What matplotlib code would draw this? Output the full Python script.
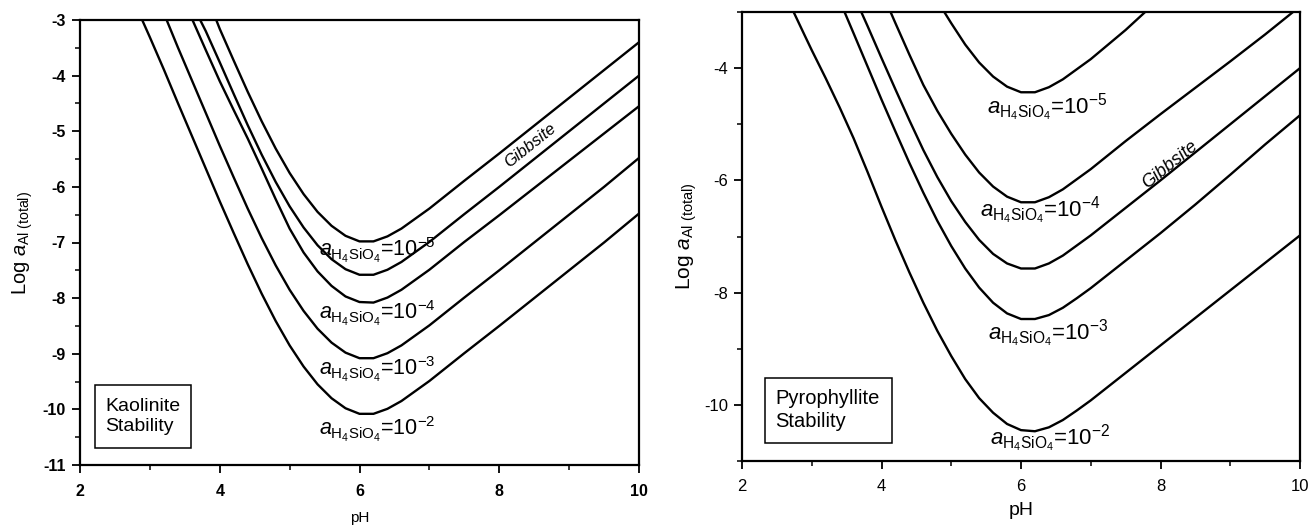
import matplotlib
matplotlib.use('Agg')
import matplotlib.pyplot as plt
from matplotlib.patches import Rectangle
from matplotlib.ticker import MultipleLocator, FormatStrFormatter

plt.rcParams['font.family'] = ['Liberation Sans', 'DejaVu Sans']
plt.rcParams['mathtext.fontset'] = 'custom'
plt.rcParams['mathtext.rm'] = 'Liberation Sans'
plt.rcParams['mathtext.it'] = 'Liberation Sans:italic'
plt.rcParams['mathtext.bf'] = 'Liberation Sans:bold'
plt.rcParams['axes.unicode_minus'] = False

# ---------------- data: Kaolinite stability (left panel) ----------------
kao_gibbsite_ph = [3.95, 4.0, 4.2, 4.4, 4.6, 4.8, 5.0, 5.2, 5.4, 5.6, 5.8, 6.0, 6.2, 6.4, 6.6, 6.8, 7.0, 7.5, 8.0, 8.5, 9.0, 9.5, 10.0]
kao_gibbsite_al = [-3.0, -3.16, -3.73, -4.29, -4.82, -5.31, -5.75, -6.13, -6.45, -6.70, -6.88, -6.98, -6.98, -6.89, -6.75, -6.57, -6.39, -5.89, -5.40, -4.90, -4.40, -3.90, -3.40]

kao_si5_ph = [3.72, 3.8, 4.0, 4.2, 4.4, 4.6, 4.8, 5.0, 5.2, 5.4, 5.6, 5.8, 6.0, 6.2, 6.4, 6.6, 6.8, 7.0, 7.5, 8.0, 8.5, 9.0, 9.5, 10.0]
kao_si5_al = [-3.0, -3.20, -3.76, -4.33, -4.89, -5.42, -5.91, -6.35, -6.73, -7.05, -7.30, -7.48, -7.58, -7.58, -7.49, -7.35, -7.17, -6.99, -6.49, -6.00, -5.50, -5.00, -4.50, -4.00]

kao_si4_ph = [3.61, 3.8, 4.0, 4.2, 4.4, 4.6, 4.8, 5.0, 5.2, 5.4, 5.6, 5.8, 6.0, 6.2, 6.4, 6.6, 6.8, 7.0, 7.5, 8.0, 8.5, 9.0, 9.5, 10.0]
kao_si4_al = [-3.0, -3.54, -4.10, -4.62, -5.13, -5.67, -6.22, -6.75, -7.18, -7.52, -7.78, -7.97, -8.07, -8.08, -7.99, -7.85, -7.67, -7.49, -6.99, -6.51, -6.02, -5.53, -5.04, -4.55]

kao_si3_ph = [3.24, 3.4, 3.6, 3.8, 4.0, 4.2, 4.4, 4.6, 4.8, 5.0, 5.2, 5.4, 5.6, 5.8, 6.0, 6.2, 6.4, 6.6, 6.8, 7.0, 7.5, 8.0, 8.5, 9.0, 9.5, 10.0]
kao_si3_al = [-3.0, -3.49, -4.08, -4.67, -5.26, -5.83, -6.39, -6.92, -7.41, -7.85, -8.23, -8.55, -8.80, -8.98, -9.08, -9.08, -8.99, -8.85, -8.67, -8.49, -7.99, -7.50, -7.00, -6.50, -6.00, -5.48]

kao_si2_ph = [2.89, 3.0, 3.2, 3.4, 3.6, 3.8, 4.0, 4.2, 4.4, 4.6, 4.8, 5.0, 5.2, 5.4, 5.6, 5.8, 6.0, 6.2, 6.4, 6.6, 6.8, 7.0, 7.5, 8.0, 8.5, 9.0, 9.5, 10.0]
kao_si2_al = [-3.0, -3.31, -3.89, -4.49, -5.08, -5.67, -6.26, -6.83, -7.39, -7.92, -8.41, -8.85, -9.23, -9.55, -9.80, -9.98, -10.08, -10.08, -9.99, -9.85, -9.67, -9.49, -8.99, -8.50, -8.00, -7.50, -7.00, -6.48]

# ---------------- data: Pyrophyllite stability (right panel) ----------------
pyr_si5_ph = [4.90, 5.0, 5.2, 5.4, 5.6, 5.8, 6.0, 6.2, 6.4, 6.6, 6.8, 7.0, 7.5, 7.78]
pyr_si5_al = [-3.0, -3.20, -3.58, -3.90, -4.15, -4.33, -4.43, -4.43, -4.34, -4.20, -4.02, -3.84, -3.32, -3.0]

pyr_si4_ph = [4.13, 4.2, 4.4, 4.6, 4.8, 5.0, 5.2, 5.4, 5.6, 5.8, 6.0, 6.2, 6.4, 6.6, 6.8, 7.0, 7.5, 8.0, 8.5, 9.0, 9.5, 9.9]
pyr_si4_al = [-3.0, -3.20, -3.76, -4.30, -4.76, -5.17, -5.54, -5.86, -6.11, -6.29, -6.39, -6.39, -6.30, -6.16, -5.98, -5.80, -5.30, -4.82, -4.35, -3.88, -3.40, -3.0]

pyr_gibbsite_ph = [3.71, 3.8, 4.0, 4.2, 4.4, 4.6, 4.8, 5.0, 5.2, 5.4, 5.6, 5.8, 6.0, 6.2, 6.4, 6.6, 6.8, 7.0, 7.5, 8.0, 8.5, 9.0, 9.5, 10.0]
pyr_gibbsite_al = [-3.0, -3.25, -3.82, -4.38, -4.93, -5.46, -5.94, -6.37, -6.74, -7.06, -7.31, -7.48, -7.57, -7.57, -7.48, -7.34, -7.16, -6.98, -6.49, -6.00, -5.50, -5.00, -4.50, -4.00]

pyr_si3_ph = [3.47, 3.6, 3.8, 4.0, 4.2, 4.4, 4.6, 4.8, 5.0, 5.2, 5.4, 5.6, 5.8, 6.0, 6.2, 6.4, 6.6, 6.8, 7.0, 7.5, 8.0, 8.5, 9.0, 9.5, 10.0]
pyr_si3_al = [-3.0, -3.38, -3.97, -4.56, -5.13, -5.69, -6.22, -6.72, -7.17, -7.57, -7.91, -8.18, -8.37, -8.47, -8.47, -8.40, -8.27, -8.10, -7.92, -7.43, -6.94, -6.43, -5.90, -5.36, -4.84]

pyr_si2_ph = [2.74, 2.9, 3.0, 3.2, 3.4, 3.6, 3.8, 4.0, 4.2, 4.4, 4.6, 4.8, 5.0, 5.2, 5.4, 5.6, 5.8, 6.0, 6.2, 6.4, 6.6, 6.8, 7.0, 7.5, 8.0, 8.5, 9.0, 9.5, 10.0]
pyr_si2_al = [-3.0, -3.42, -3.68, -4.18, -4.70, -5.25, -5.85, -6.47, -7.07, -7.64, -8.18, -8.68, -9.13, -9.54, -9.88, -10.14, -10.34, -10.45, -10.47, -10.40, -10.27, -10.10, -9.92, -9.43, -8.94, -8.45, -7.96, -7.47, -6.98]

si_labels = ['$a_{\\mathrm{H_4SiO_4}}$=10$^{-5}$', '$a_{\\mathrm{H_4SiO_4}}$=10$^{-4}$',
             '$a_{\\mathrm{H_4SiO_4}}$=10$^{-3}$', '$a_{\\mathrm{H_4SiO_4}}$=10$^{-2}$']
ylabel_text = 'Log $a_{\\mathrm{Al\\ (total)}}$'

LW = 1.7

fig = plt.figure(figsize=(13.1, 5.26), dpi=100)
axL = fig.add_axes([80/1310, 1 - 465/526, 559/1310, 445/526])
axR = fig.add_axes([742/1310, 1 - 461/526, 558/1310, 449/526])

# ---- left panel ----
for ph, al in [(kao_gibbsite_ph, kao_gibbsite_al), (kao_si5_ph, kao_si5_al), (kao_si4_ph, kao_si4_al),
               (kao_si3_ph, kao_si3_al), (kao_si2_ph, kao_si2_al)]:
    axL.plot(ph, al, color='black', lw=LW, solid_joinstyle='round')
axL.set_xlim(2, 10)
axL.set_ylim(-11, -3)
axL.xaxis.set_major_locator(MultipleLocator(2))
axL.xaxis.set_minor_locator(MultipleLocator(1))
axL.yaxis.set_major_locator(MultipleLocator(1))
axL.yaxis.set_minor_locator(MultipleLocator(0.5))
axL.xaxis.set_major_formatter(FormatStrFormatter('%d'))
axL.yaxis.set_major_formatter(FormatStrFormatter('%d'))
axL.set_xlabel('pH', fontsize=11, labelpad=8)
axL.set_ylabel(ylabel_text, fontsize=14.5, labelpad=6)

lab_pos_L = [(5.42, -7.15), (5.42, -8.28), (5.42, -9.29), (5.42, -10.36)]
for (x, y), t in zip(lab_pos_L, si_labels):
    axL.text(x, y, t, fontsize=15.5, va='center', ha='left')
axL.text(8.45, -5.25, 'Gibbsite', fontsize=12, style='italic', rotation=38.5,
         ha='center', va='center', rotation_mode='anchor')
axL.add_patch(Rectangle((0.027, 0.0375), 0.172, 0.1425, transform=axL.transAxes,
                        fill=False, ec='black', lw=1.1))
axL.text(0.045, 0.109, 'Kaolinite\nStability', transform=axL.transAxes, fontsize=14,
         ha='left', va='center', linespacing=1.25)

# ---- right panel ----
for ph, al in [(pyr_si5_ph, pyr_si5_al), (pyr_si4_ph, pyr_si4_al), (pyr_gibbsite_ph, pyr_gibbsite_al),
               (pyr_si3_ph, pyr_si3_al), (pyr_si2_ph, pyr_si2_al)]:
    axR.plot(ph, al, color='black', lw=LW, solid_joinstyle='round')
axR.set_xlim(2, 10)
axR.set_ylim(-11, -3)
axR.xaxis.set_major_locator(MultipleLocator(2))
axR.xaxis.set_minor_locator(MultipleLocator(1))
axR.set_yticks([-10, -8, -6, -4])
axR.set_yticks([-11, -9, -7, -5, -3], minor=True)
axR.xaxis.set_major_formatter(FormatStrFormatter('%d'))
axR.yaxis.set_major_formatter(FormatStrFormatter('%d'))
axR.set_xlabel('pH', fontsize=14, labelpad=6)
axR.set_ylabel(ylabel_text, fontsize=15, labelpad=4)

lab_pos_R = [(5.51, -4.71), (5.41, -6.55), (5.53, -8.74), (5.56, -10.6)]
for (x, y), t in zip(lab_pos_R, si_labels):
    axR.text(x, y, t, fontsize=16, va='center', ha='left')
axR.text(8.13, -5.73, 'Gibbsite', fontsize=13, style='italic', rotation=38.8,
         ha='center', va='center', rotation_mode='anchor')
axR.add_patch(Rectangle((0.041, 0.04), 0.228, 0.145, transform=axR.transAxes,
                        fill=False, ec='black', lw=1.1))
axR.text(0.059, 0.113, 'Pyrophyllite\nStability', transform=axR.transAxes, fontsize=14.5,
         ha='left', va='center', linespacing=1.25)

for ax, bold, size, xpad in [(axL, True, 11.5, 8), (axR, False, 12, 7)]:
    for s in ax.spines.values():
        s.set_linewidth(1.6)
    ax.tick_params(which='major', direction='out', length=6, width=1.3, labelsize=size, pad=4)
    ax.tick_params(axis='x', which='major', pad=xpad)
    ax.tick_params(which='minor', direction='out', length=3.5, width=1.1)
    for lbl in ax.get_xticklabels() + ax.get_yticklabels():
        lbl.set_fontweight('bold' if bold else 'normal')

fig.savefig('out.png', dpi=100, facecolor='white')
